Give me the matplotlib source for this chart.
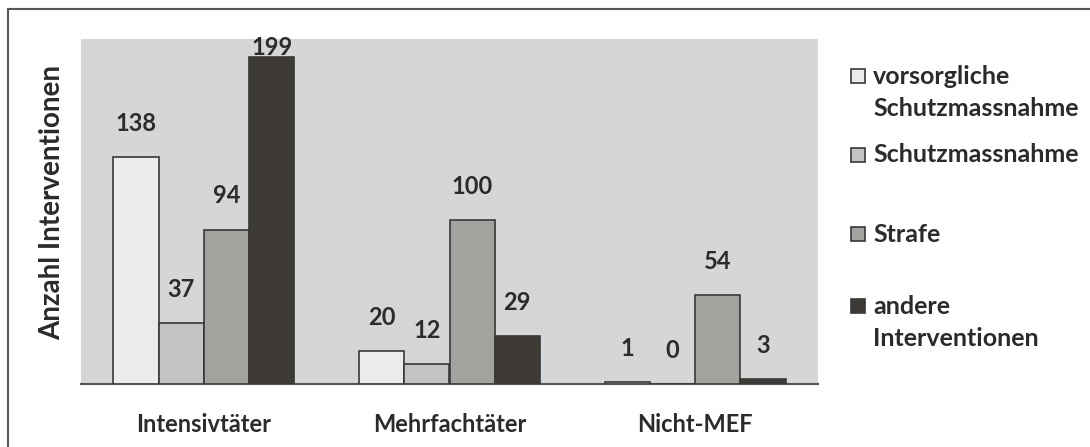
import numpy as np
import matplotlib.pyplot as plt
from matplotlib.patches import Rectangle

# -- donnees
gruppen = ['Intensivtäter', 'Mehrfachtäter', 'Nicht-MEF']
serien = ['vorsorgliche\nSchutzmassnahme', 'Schutzmassnahme', 'Strafe',
          'andere\nInterventionen']
vorsorglich = [138, 20, 1]
schutz = [37, 12, 0]
strafe = [94, 100, 54]
andere = [199, 29, 3]
werte = [vorsorglich, schutz, strafe, andere]

farben = ['#e9ebec', '#c3c3c1', '#a2a29f', '#3e3a36']
hg = '#d5d6d6'
kante = '#383838'
txt = '#2b2b2b'
plt.rcParams['font.family'] = ['Lato', 'DejaVu Sans']

W, H = 1090, 447
fig = plt.figure(figsize=(W / 100, H / 100), dpi=100)
fig.patch.set_facecolor('white')
ax = fig.add_axes([81 / W, 1 - 384 / H, (818 - 81) / W, (384 - 39) / H])
ax.set_facecolor(hg)

ymax = 210
x = np.arange(len(gruppen))
bw = 0.184
for i, (vals, col) in enumerate(zip(werte, farben)):
    pos = x + (i - 1.5) * bw
    bars = ax.bar(pos, vals, width=bw, color=col, edgecolor=kante,
                  linewidth=1.2, zorder=3)
    for b, v in zip(bars, vals):
        # comme Excel : l'etiquette reste dans la zone de trace
        ax.text(b.get_x() + b.get_width() / 2, min(v + 13.5, ymax - 12),
                str(v), ha='center', va='bottom', fontsize=17,
                fontweight='bold', color=txt)

ax.set_xlim(-0.5, 2.5)
ax.set_ylim(0, ymax)
ax.set_yticks([])
ax.set_xticks(x)
ax.set_xticklabels(gruppen, fontsize=17, fontweight='bold', color=txt)
ax.tick_params(axis='x', length=0, pad=21)
for s in ['top', 'right', 'left']:
    ax.spines[s].set_visible(False)
ax.spines['bottom'].set_color('#555555')
ax.spines['bottom'].set_linewidth(1.5)
fig.text(52 / W, 1 - 202 / H, 'Anzahl Interventionen', rotation=90,
         ha='center', va='center', fontsize=20, fontweight='bold', color=txt)

# legende (manuelle, comme Excel)
leg_y = [76, 155, 234, 306]
for lab, col, yy in zip(serien, farben, leg_y):
    fig.patches.append(Rectangle((851 / W, 1 - (yy + 7) / H), 14 / W,
                                 14 / H, transform=fig.transFigure,
                                 facecolor=col, edgecolor=kante,
                                 linewidth=1.2))
    for k, zeile in enumerate(lab.split('\n')):
        fig.text(873 / W, 1 - (yy + 33 * k) / H, zeile, fontsize=18,
                 fontweight='bold', color=txt, va='center', ha='left')

# cadre exterieur
fig.patches.append(Rectangle((8 / W, -0.05), 1.1, 1 - 9 / H + 0.05,
                             transform=fig.transFigure, facecolor='none',
                             edgecolor='#555555', linewidth=1.5))

fig.savefig('out.png', dpi=100)
